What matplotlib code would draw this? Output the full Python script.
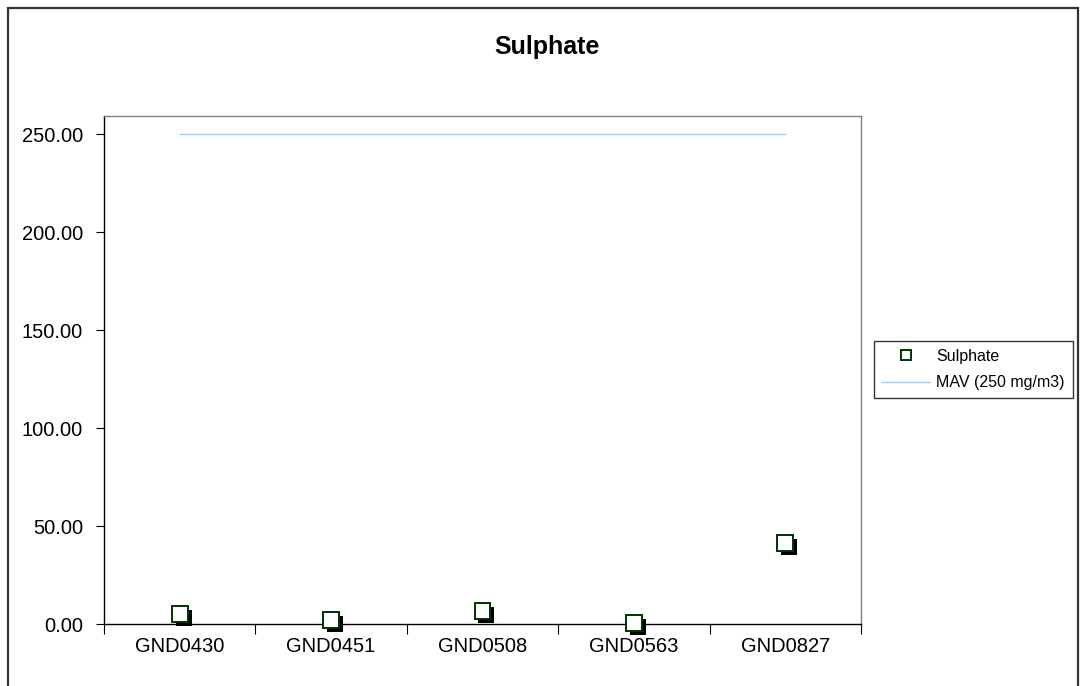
import matplotlib.pyplot as plt
import matplotlib.patheffects as pe
from matplotlib.patches import Rectangle

plt.rcParams['font.family'] = ['Liberation Sans', 'DejaVu Sans']

sites = ['GND0430', 'GND0451', 'GND0508', 'GND0563', 'GND0827']
sulphate = [5.0, 2.0, 6.8, 0.4, 41.3]
mav = [250, 250, 250, 250, 250]

fig = plt.figure(figsize=(10.8, 6.86), dpi=100)
# outer chart border (chart area runs past the bottom/right of the picture)
fig.patches.append(Rectangle((7.5 / 1080, -0.05), 1070.5 / 1080, 1.05 - 8 / 686,
                             transform=fig.transFigure, fill=False,
                             edgecolor='#333333', linewidth=1.6))

ax = fig.add_axes([104 / 1080, 62 / 686, 757 / 1080, 508 / 686])
x = range(len(sites))

ax.plot(x, sulphate, linestyle='none', marker='s', markersize=11.5,
        markerfacecolor='white', markeredgecolor='#003300', markeredgewidth=1.4,
        label='Sulphate', clip_on=False, zorder=5,
        path_effects=[pe.SimplePatchShadow(offset=(2.8, -2.8), shadow_rgbFace='black', alpha=1.0),
                      pe.Normal()])
ax.plot(x, mav, color='#99CCFF', linewidth=1.0, label='MAV (250 mg/m3)')

ax.set_xlim(-0.5, len(sites) - 0.5)
ax.set_ylim(0, 259.2)
ax.set_yticks([0, 50, 100, 150, 200, 250])
ax.set_yticklabels([f'{v:.2f}' for v in [0, 50, 100, 150, 200, 250]], fontsize=14.5)
ax.set_xticks([i - 0.5 for i in range(len(sites) + 1)])
ax.set_xticklabels([])
ax.set_xticks(list(x), minor=True)
ax.set_xticklabels(sites, minor=True, fontsize=14.5)
ax.tick_params(axis='x', which='minor', length=0, pad=9)
ax.tick_params(axis='x', which='major', length=7, color='black', direction='out')
ax.tick_params(axis='y', length=6, direction='out', pad=9)

ax.spines['top'].set_color('#808080')
ax.spines['right'].set_color('#808080')
ax.spines['left'].set_color('black')
ax.spines['bottom'].set_color('black')
for s in ax.spines.values():
    s.set_linewidth(1.0)

fig.text(547 / 1080, 1 - 47 / 686, 'Sulphate', fontsize=18, fontweight='bold',
         ha='center', va='center')

leg = ax.legend(loc='upper left', bbox_to_anchor=(874 / 1080, 1 - 341 / 686),
                bbox_transform=fig.transFigure, fontsize=11.5,
                frameon=True, fancybox=False, edgecolor='black', borderpad=0.5,
                borderaxespad=0, handlelength=3.0, handletextpad=0.4,
                labelspacing=0.7)
leg.get_frame().set_linewidth(1.0)
leg.legend_handles[0].set_markersize(6.5)
leg.legend_handles[0].set_path_effects([])

fig.savefig('out.png', dpi=100)
